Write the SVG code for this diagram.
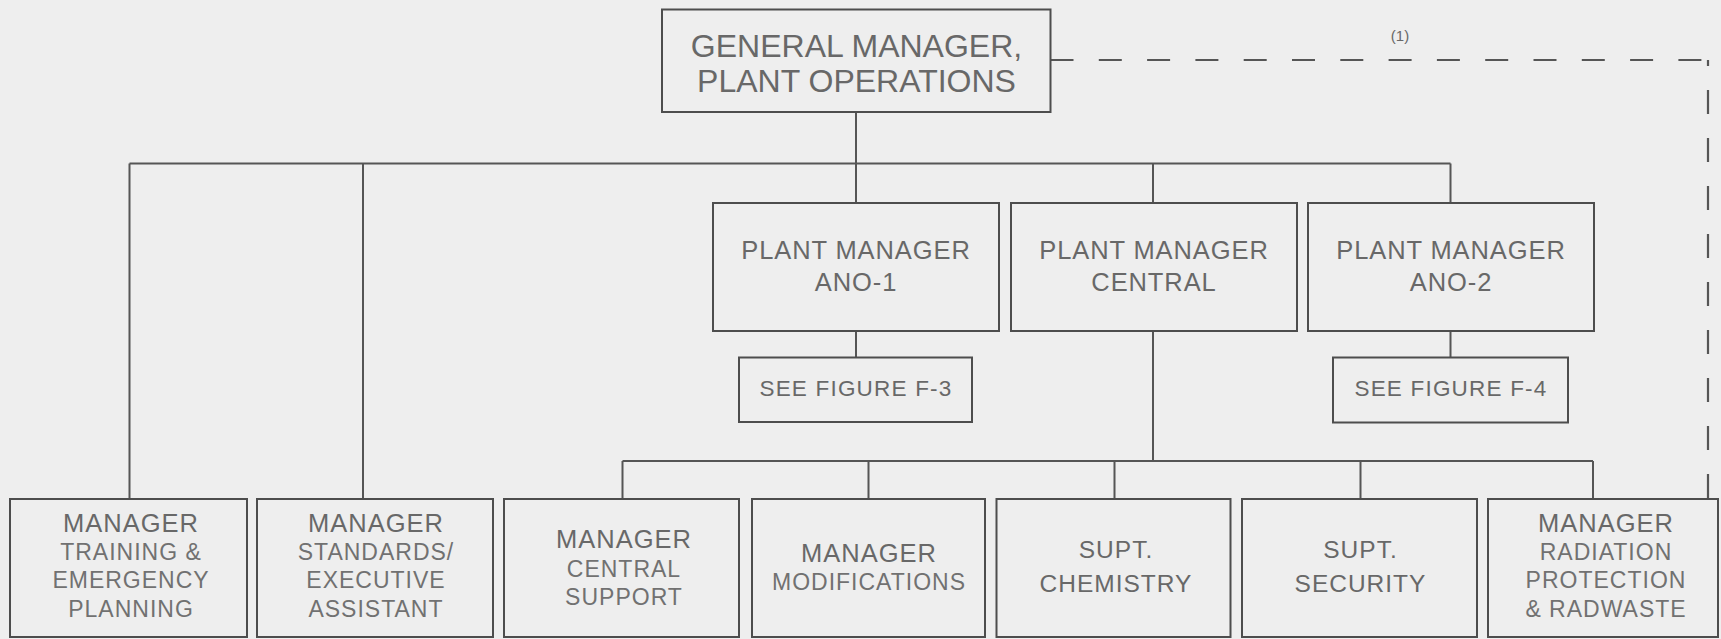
<svg xmlns="http://www.w3.org/2000/svg" width="1721" height="639" viewBox="0 0 1721 639">
<style>
.bg{fill:#eeeeee}
.box{fill:none;stroke:#4d4d4d;stroke-width:2}
.ln{fill:none;stroke:#555555;stroke-width:2}
.dash{fill:none;stroke:#555555;stroke-width:2.2}
text{font-family:"Liberation Sans",Arial,Helvetica,sans-serif;fill:#686868;text-anchor:middle}
.gm{font-size:32px}
.pm{font-size:25.5px;letter-spacing:0.9px}
.see{font-size:22.5px;letter-spacing:1.2px}
.mg{font-size:25.5px;letter-spacing:1px}
.sub{font-size:23px;letter-spacing:1px;fill:#717171}
.sp{font-size:24.5px;letter-spacing:1px}
.note{font-size:15px}
</style>
<rect class="bg" x="0" y="0" width="1721" height="639"/>
<g id="connectors">
<path class="ln" d="M856,112 V203"/>
<path class="ln" d="M129.5,163.5 H1450.5"/>
<path class="ln" d="M129.5,163.5 V499"/>
<path class="ln" d="M363,163.5 V499"/>
<path class="ln" d="M1153,163.5 V203"/>
<path class="ln" d="M1450.5,163.5 V203"/>
<path class="ln" d="M856,331 V357.5"/>
<path class="ln" d="M1450.5,331 V357.5"/>
<path class="ln" d="M1153,331 V461"/>
<path class="ln" d="M622.5,461 H1593"/>
<path class="ln" d="M622.5,461 V499"/>
<path class="ln" d="M868.5,461 V499"/>
<path class="ln" d="M1114.5,461 V499"/>
<path class="ln" d="M1360.5,461 V499"/>
<path class="ln" d="M1593,461 V499"/>
<path class="dash" d="M1050.5,60 H1708" stroke-dasharray="23 25.3"/>
<path class="dash" d="M1708,60 V499" stroke-dasharray="24 24" stroke-dashoffset="18"/>
<text class="note" x="1400" y="41">(1)</text>
</g>
<g id="gm">
<rect class="box" x="662" y="9.5" width="388.5" height="102.5"/>
<text class="gm" x="856.5" y="56.7">GENERAL MANAGER,</text>
<text class="gm" x="856.5" y="91.7">PLANT OPERATIONS</text>
</g>
<g id="pm-ano1">
<rect class="box" x="713" y="203" width="286" height="128"/>
<text class="pm" x="856" y="259.3">PLANT MANAGER</text>
<text class="pm" x="856" y="290.7">ANO-1</text>
</g>
<g id="pm-central">
<rect class="box" x="1011" y="203" width="286" height="128"/>
<text class="pm" x="1154" y="259.3">PLANT MANAGER</text>
<text class="pm" x="1154" y="290.7">CENTRAL</text>
</g>
<g id="pm-ano2">
<rect class="box" x="1308" y="203" width="286" height="128"/>
<text class="pm" x="1451" y="259.3">PLANT MANAGER</text>
<text class="pm" x="1451" y="290.7">ANO-2</text>
</g>
<g id="see-f3">
<rect class="box" x="739" y="357.5" width="233" height="64.5"/>
<text class="see" x="856" y="396">SEE FIGURE F-3</text>
</g>
<g id="see-f4">
<rect class="box" x="1333" y="357.5" width="235" height="65"/>
<text class="see" x="1451" y="396">SEE FIGURE F-4</text>
</g>
<g id="mgr-training">
<rect class="box" x="10" y="499" width="237" height="138"/>
<text class="mg" x="131" y="531.7">MANAGER</text>
<text class="sub" x="131" y="560">TRAINING &amp;</text>
<text class="sub" x="131" y="588.3">EMERGENCY</text>
<text class="sub" x="131" y="616.7">PLANNING</text>
</g>
<g id="mgr-standards">
<rect class="box" x="257" y="499" width="236" height="138"/>
<text class="mg" x="376" y="531.7">MANAGER</text>
<text class="sub" x="376" y="560">STANDARDS/</text>
<text class="sub" x="376" y="588.3">EXECUTIVE</text>
<text class="sub" x="376" y="616.7">ASSISTANT</text>
</g>
<g id="mgr-central-support">
<rect class="box" x="504" y="499" width="235" height="138"/>
<text class="mg" x="624" y="548.3">MANAGER</text>
<text class="sub" x="624" y="576.7">CENTRAL</text>
<text class="sub" x="624" y="605">SUPPORT</text>
</g>
<g id="mgr-modifications">
<rect class="box" x="752" y="499" width="233" height="138"/>
<text class="mg" x="869" y="561.7">MANAGER</text>
<text class="sub" x="869" y="590">MODIFICATIONS</text>
</g>
<g id="supt-chemistry">
<rect class="box" x="996.5" y="499" width="234" height="138"/>
<text class="sp" x="1116" y="558.3">SUPT.</text>
<text class="sp" x="1116" y="591.7">CHEMISTRY</text>
</g>
<g id="supt-security">
<rect class="box" x="1242" y="499" width="235" height="138"/>
<text class="sp" x="1360.5" y="558.3">SUPT.</text>
<text class="sp" x="1360.5" y="591.7">SECURITY</text>
</g>
<g id="mgr-radiation">
<rect class="box" x="1488" y="499" width="230" height="138"/>
<text class="mg" x="1606" y="531.7">MANAGER</text>
<text class="sub" x="1606" y="560">RADIATION</text>
<text class="sub" x="1606" y="588.3">PROTECTION</text>
<text class="sub" x="1606" y="616.7">&amp; RADWASTE</text>
</g>
</svg>
